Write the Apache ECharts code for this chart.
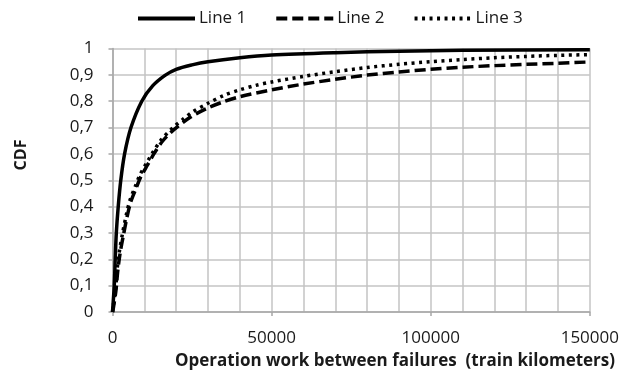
<!DOCTYPE html>
<html><head><meta charset="utf-8">
<script src="https://cdn.jsdelivr.net/npm/echarts@6/dist/echarts.min.js"></script>
<style>html,body{margin:0;padding:0;background:#fff}#c{width:622px;height:374px}</style>
</head><body><div id="c"></div>
<script>
const seriesNames = ['Line 1', 'Line 2', 'Line 3'];
const line1 = [[0,0],[550,0.1],[850,0.2],[1200,0.3],[1800,0.4],[2600,0.5],[3800,0.6],[5800,0.7],[9200,0.8],[12600,0.858],[16500,0.898],[20000,0.921],[25000,0.938],[30000,0.95],[40000,0.965],[50000,0.975],[70000,0.984],[90000,0.99],[110000,0.993],[150000,0.995]];
const line2 = [[0,0],[250,0.013],[1100,0.083],[1600,0.15],[2350,0.22],[3400,0.29],[4700,0.368],[5800,0.42],[7400,0.469],[8900,0.513],[11000,0.558],[13100,0.602],[15700,0.648],[19100,0.69],[24300,0.738],[29500,0.772],[34700,0.797],[40000,0.817],[50000,0.843],[60000,0.865],[70000,0.883],[80000,0.899],[90000,0.911],[100000,0.921],[110000,0.929],[120000,0.935],[130000,0.94],[140000,0.944],[150000,0.949]];
const line3 = [[0,0],[200,0.02],[1000,0.09],[1400,0.155],[2100,0.225],[3100,0.295],[4400,0.372],[5500,0.425],[7100,0.475],[8600,0.52],[10700,0.565],[12800,0.608],[15400,0.655],[19000,0.7],[22000,0.73],[25000,0.758],[30000,0.792],[35000,0.822],[40000,0.843],[45000,0.86],[50000,0.873],[60000,0.894],[70000,0.912],[80000,0.928],[90000,0.94],[100000,0.95],[110000,0.958],[120000,0.965],[130000,0.97],[140000,0.974],[150000,0.977]];
const xTitle = 'Operation work between failures  (train kilometers)';
const yTitle = 'CDF';

const font = '"Open Sans", Lato, sans-serif';
const chart = echarts.init(document.getElementById('c'));
chart.setOption({
  animation: false,
  backgroundColor: '#fff',
  grid: {left: 112.5, right: 31, top: 48.5, bottom: 62},
  legend: {
    left: 131, top: 5, itemWidth: 57, itemHeight: 14, itemGap: 28,
    itemStyle: {opacity: 0},
    lineStyle: {width: 4},
    textStyle: {fontFamily: font, fontSize: 17, color: '#1a1a1a', padding: [0,0,0,-1]},
    data: seriesNames
  },
  xAxis: {
    type: 'value', min: 0, max: 150000, interval: 50000,
    axisLine: {lineStyle: {color: '#a6a6a6', width: 1.5}},
    axisTick: {show: true, length: 4, lineStyle: {color: '#a6a6a6', width: 1.5}},
    axisLabel: {fontFamily: font, fontSize: 17, color: '#1a1a1a', margin: 18, formatter: v => String(v)},
    splitLine: {show: true, lineStyle: {color: '#c4c4c4', width: 1.5}},
    minorTick: {show: false, splitNumber: 5},
    minorSplitLine: {show: true, lineStyle: {color: '#c4c4c4', width: 1.5}}
  },
  yAxis: {
    type: 'value', min: 0, max: 1, interval: 0.1,
    axisLine: {show: true, lineStyle: {color: '#a6a6a6', width: 1.5}},
    axisTick: {show: true, length: 4, lineStyle: {color: '#a6a6a6', width: 1.5}},
    axisLabel: {fontFamily: font, fontSize: 17, color: '#1a1a1a', margin: 19,
      formatter: v => String(Math.round(v*10)/10).replace('.', ',')},
    splitLine: {show: true, lineStyle: {color: '#c4c4c4', width: 1.5}}
  },
  graphic: [
    {type: 'text', x: 175, y: 361, style: {text: xTitle, fontFamily: font, fontWeight: 'bold', fontSize: 17, fill: '#1a1a1a', textVerticalAlign: 'middle', verticalAlign: 'middle'}},
    {type: 'text', x: 21, y: 155, rotation: Math.PI/2, style: {text: yTitle, fontFamily: font, fontWeight: 'bold', fontSize: 16, fill: '#1a1a1a', align: 'center', verticalAlign: 'middle'}}
  ],
  series: [
    {name: seriesNames[0], type: 'line', data: line1, smooth: 0.3, symbol: 'none', lineStyle: {color: '#000', width: 3.5, type: 'solid'}, itemStyle: {color: '#000'}},
    {name: seriesNames[1], type: 'line', data: line2, smooth: 0.3, symbol: 'none', lineStyle: {color: '#000', width: 3.5, type: [11, 5]}, itemStyle: {color: '#000'}},
    {name: seriesNames[2], type: 'line', data: line3, smooth: 0.3, symbol: 'none', lineStyle: {color: '#000', width: 3.5, type: [3, 4.5]}, itemStyle: {color: '#000'}}
  ]
});
</script></body></html>
